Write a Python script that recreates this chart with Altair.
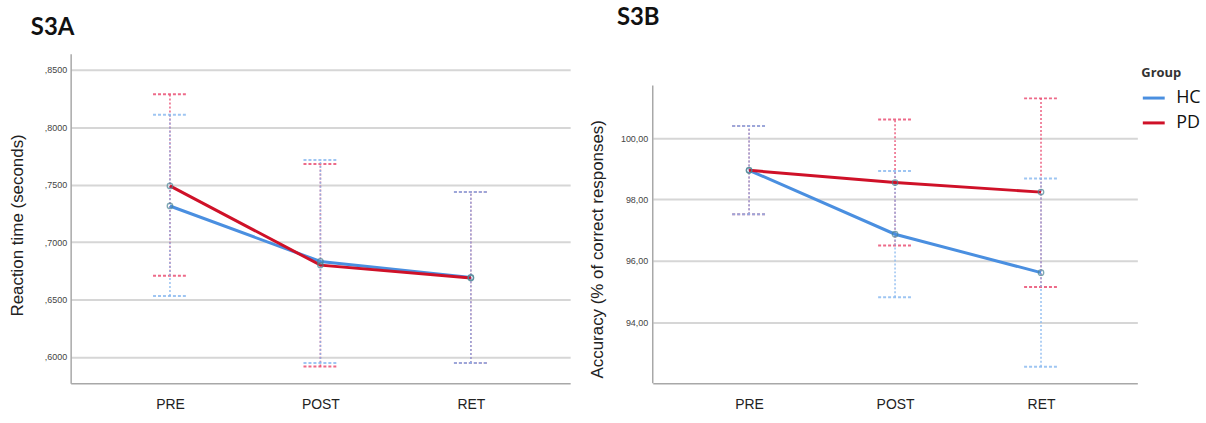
import altair as alt
import pandas as pd

# ---------------- data ----------------
times = ["PRE", "POST", "RET"]
groups = ["HC", "PD"]

# S3A: reaction time (seconds)
rt_hc_mean = [0.7315, 0.6832, 0.6693]
rt_hc_low = [0.6532, 0.5948, 0.5948]
rt_hc_high = [0.8109, 0.7715, 0.7437]
rt_pd_mean = [0.7490, 0.6800, 0.6688]
rt_pd_low = [0.6708, 0.5916, 0.5948]
rt_pd_high = [0.8289, 0.7680, 0.7437]

# S3B: accuracy (% of correct responses)
acc_hc_mean = [98.95, 96.87, 95.62]
acc_hc_low = [97.52, 94.82, 92.56]
acc_hc_high = [100.39, 98.93, 98.68]
acc_pd_mean = [98.95, 98.55, 98.24]
acc_pd_low = [97.52, 96.50, 95.15]
acc_pd_high = [100.39, 100.60, 101.29]

rt_ticks = [0.60, 0.65, 0.70, 0.75, 0.80, 0.85]
acc_ticks = [94, 96, 98, 100]

# axis extents (value range covered by each y-axis line)
rt_axis_range = [0.5772, 0.8641]
acc_axis_range = [92.026, 101.706]
acc_view_top = 102.741  # the S3B view is shorter than S3A's; headroom above its axis line

LINE_COLORS = ["#4a8fe0", "#cf1128"]
ERR_COLORS = {"HC": "#86b6ef", "PD": "#e8456b"}
AXIS_GREY = "#a8a8a8"
FONT = "Open Sans"


def make_table(hc_mean, hc_low, hc_high, pd_mean, pd_low, pd_high):
    rows = []
    for g, m, lo, hi in (("HC", hc_mean, hc_low, hc_high), ("PD", pd_mean, pd_low, pd_high)):
        for t, mv, lv, hv in zip(times, m, lo, hi):
            rows.append({"time": t, "group": g, "mean": mv, "low": lv, "high": hv})
    return pd.DataFrame(rows)


def panel(df, domain, axis_range, ticks, fmt, ytitle, title, title_offset, title_dx,
          width, height, label_padding, title_xy, legend, draw_axis_line):
    x = alt.X(
        "time:N", sort=times,
        scale=alt.Scale(type="point", padding=0.66),
        axis=alt.Axis(title=None, labelAngle=0, labelFontSize=14, labelColor="#222",
                      labelPadding=14, ticks=False, grid=False,
                      domainColor=AXIS_GREY, domainWidth=1.5),
    )
    yaxis = alt.Axis(
        values=ticks, labelExpr=fmt, grid=True, gridColor="#d6d6d6", gridWidth=2,
        ticks=False, domain=not draw_axis_line, domainColor=AXIS_GREY, domainWidth=1.5,
        labelFontSize=9, labelColor="#444", labelPadding=label_padding,
        title=ytitle, titleFontSize=17, titleFontWeight="normal", titleColor="#222",
        titleX=title_xy[0], titleY=title_xy[1], titleAngle=270,
        titleAlign="center", titleBaseline="bottom",
    )
    yscale = alt.Scale(domain=domain, nice=False, zero=False)
    base = alt.Chart(df)

    layers = []
    if draw_axis_line:
        axis_df = pd.DataFrame({"lo": [axis_range[0]], "hi": [axis_range[1]]})
        layers.append(
            alt.Chart(axis_df).mark_rule(color=AXIS_GREY, strokeWidth=1.5).encode(
                x=alt.value(0), y=alt.Y("lo:Q", scale=yscale, axis=yaxis), y2="hi:Q")
        )
    for g in ["PD", "HC"]:
        sub = base.transform_filter(alt.datum.group == g)
        layers.append(
            sub.mark_rule(strokeDash=[2, 2], strokeWidth=1.6, opacity=0.8).encode(
                x=x, y=alt.Y("low:Q", scale=yscale, axis=yaxis), y2="high:Q",
                color=alt.value(ERR_COLORS[g]))
        )
        for fld in ("low", "high"):
            layers.append(
                sub.mark_rule(strokeDash=[3, 2], strokeWidth=2, opacity=0.8,
                              xOffset=-17, x2Offset=17).encode(
                    x=x, x2="time:N", y=alt.Y(f"{fld}:Q", scale=yscale, axis=yaxis),
                    color=alt.value(ERR_COLORS[g]))
            )

    color = alt.Color(
        "group:N", scale=alt.Scale(domain=groups, range=LINE_COLORS),
        legend=legend,
    )
    lines = base.mark_line(strokeWidth=3).encode(
        x=x, y=alt.Y("mean:Q", scale=yscale, axis=yaxis), color=color,
        order=alt.Order("group:N", sort="descending"),
    )
    points = base.mark_point(shape="circle", filled=False, size=30, strokeWidth=1.3,
                             color="#4a8595").encode(
        x=x, y=alt.Y("mean:Q", scale=yscale, axis=yaxis))
    layers += [lines, points]

    return alt.layer(*layers).properties(
        width=width, height=height,
        view=alt.ViewBackground(stroke="transparent", strokeWidth=0),
        title=alt.TitleParams(text=title, lineHeight=10, offset=title_offset, dx=title_dx,
                              anchor="start", frame="group", font="Lato",
                              fontSize=24, fontWeight="bold", color="#111"),
    )


rt_df = make_table(rt_hc_mean, rt_hc_low, rt_hc_high, rt_pd_mean, rt_pd_low, rt_pd_high)
acc_df = make_table(acc_hc_mean, acc_hc_low, acc_hc_high, acc_pd_mean, acc_pd_low, acc_pd_high)

left = panel(
    rt_df, rt_axis_range, rt_axis_range, rt_ticks,
    "replace(format(datum.value, '.4f'), '0.', ',')",
    "Reaction time (seconds)", ["", "S3A"], 14, -40,
    502, 331, 4, (-44, 172), None, False,
)

legend = alt.Legend(
    title="Group", orient="none", legendX=491, legendY=13,
    titleFont=FONT, titleFontSize=13, titleFontWeight="bold", titleColor="#333",
    titlePadding=6, labelFont=FONT, labelFontSize=18, labelColor="#111",
    symbolType="stroke", symbolSize=484, symbolStrokeWidth=3, labelOffset=10,
    rowPadding=3,
)

right = panel(
    acc_df, [acc_axis_range[0], acc_view_top], acc_axis_range, acc_ticks,
    "replace(format(datum.value, '.2f'), '.', ',')",
    "Accuracy (% of correct responses)", "S3B", 24, -36,
    487, 331, 5, (-46, 196), legend, True,
)

chart = (
    alt.hconcat(left, right, spacing=18)
    .resolve_scale(color="independent")
    .properties(padding={"left": 9, "top": 5, "right": 5, "bottom": 5})
    .configure_view(stroke="transparent", strokeWidth=0)
    .configure_axis(labelFont=FONT, titleFont=FONT)
    .configure(background="white")
)

chart.save("out.html", embed_options={"renderer": "svg", "actions": False})
